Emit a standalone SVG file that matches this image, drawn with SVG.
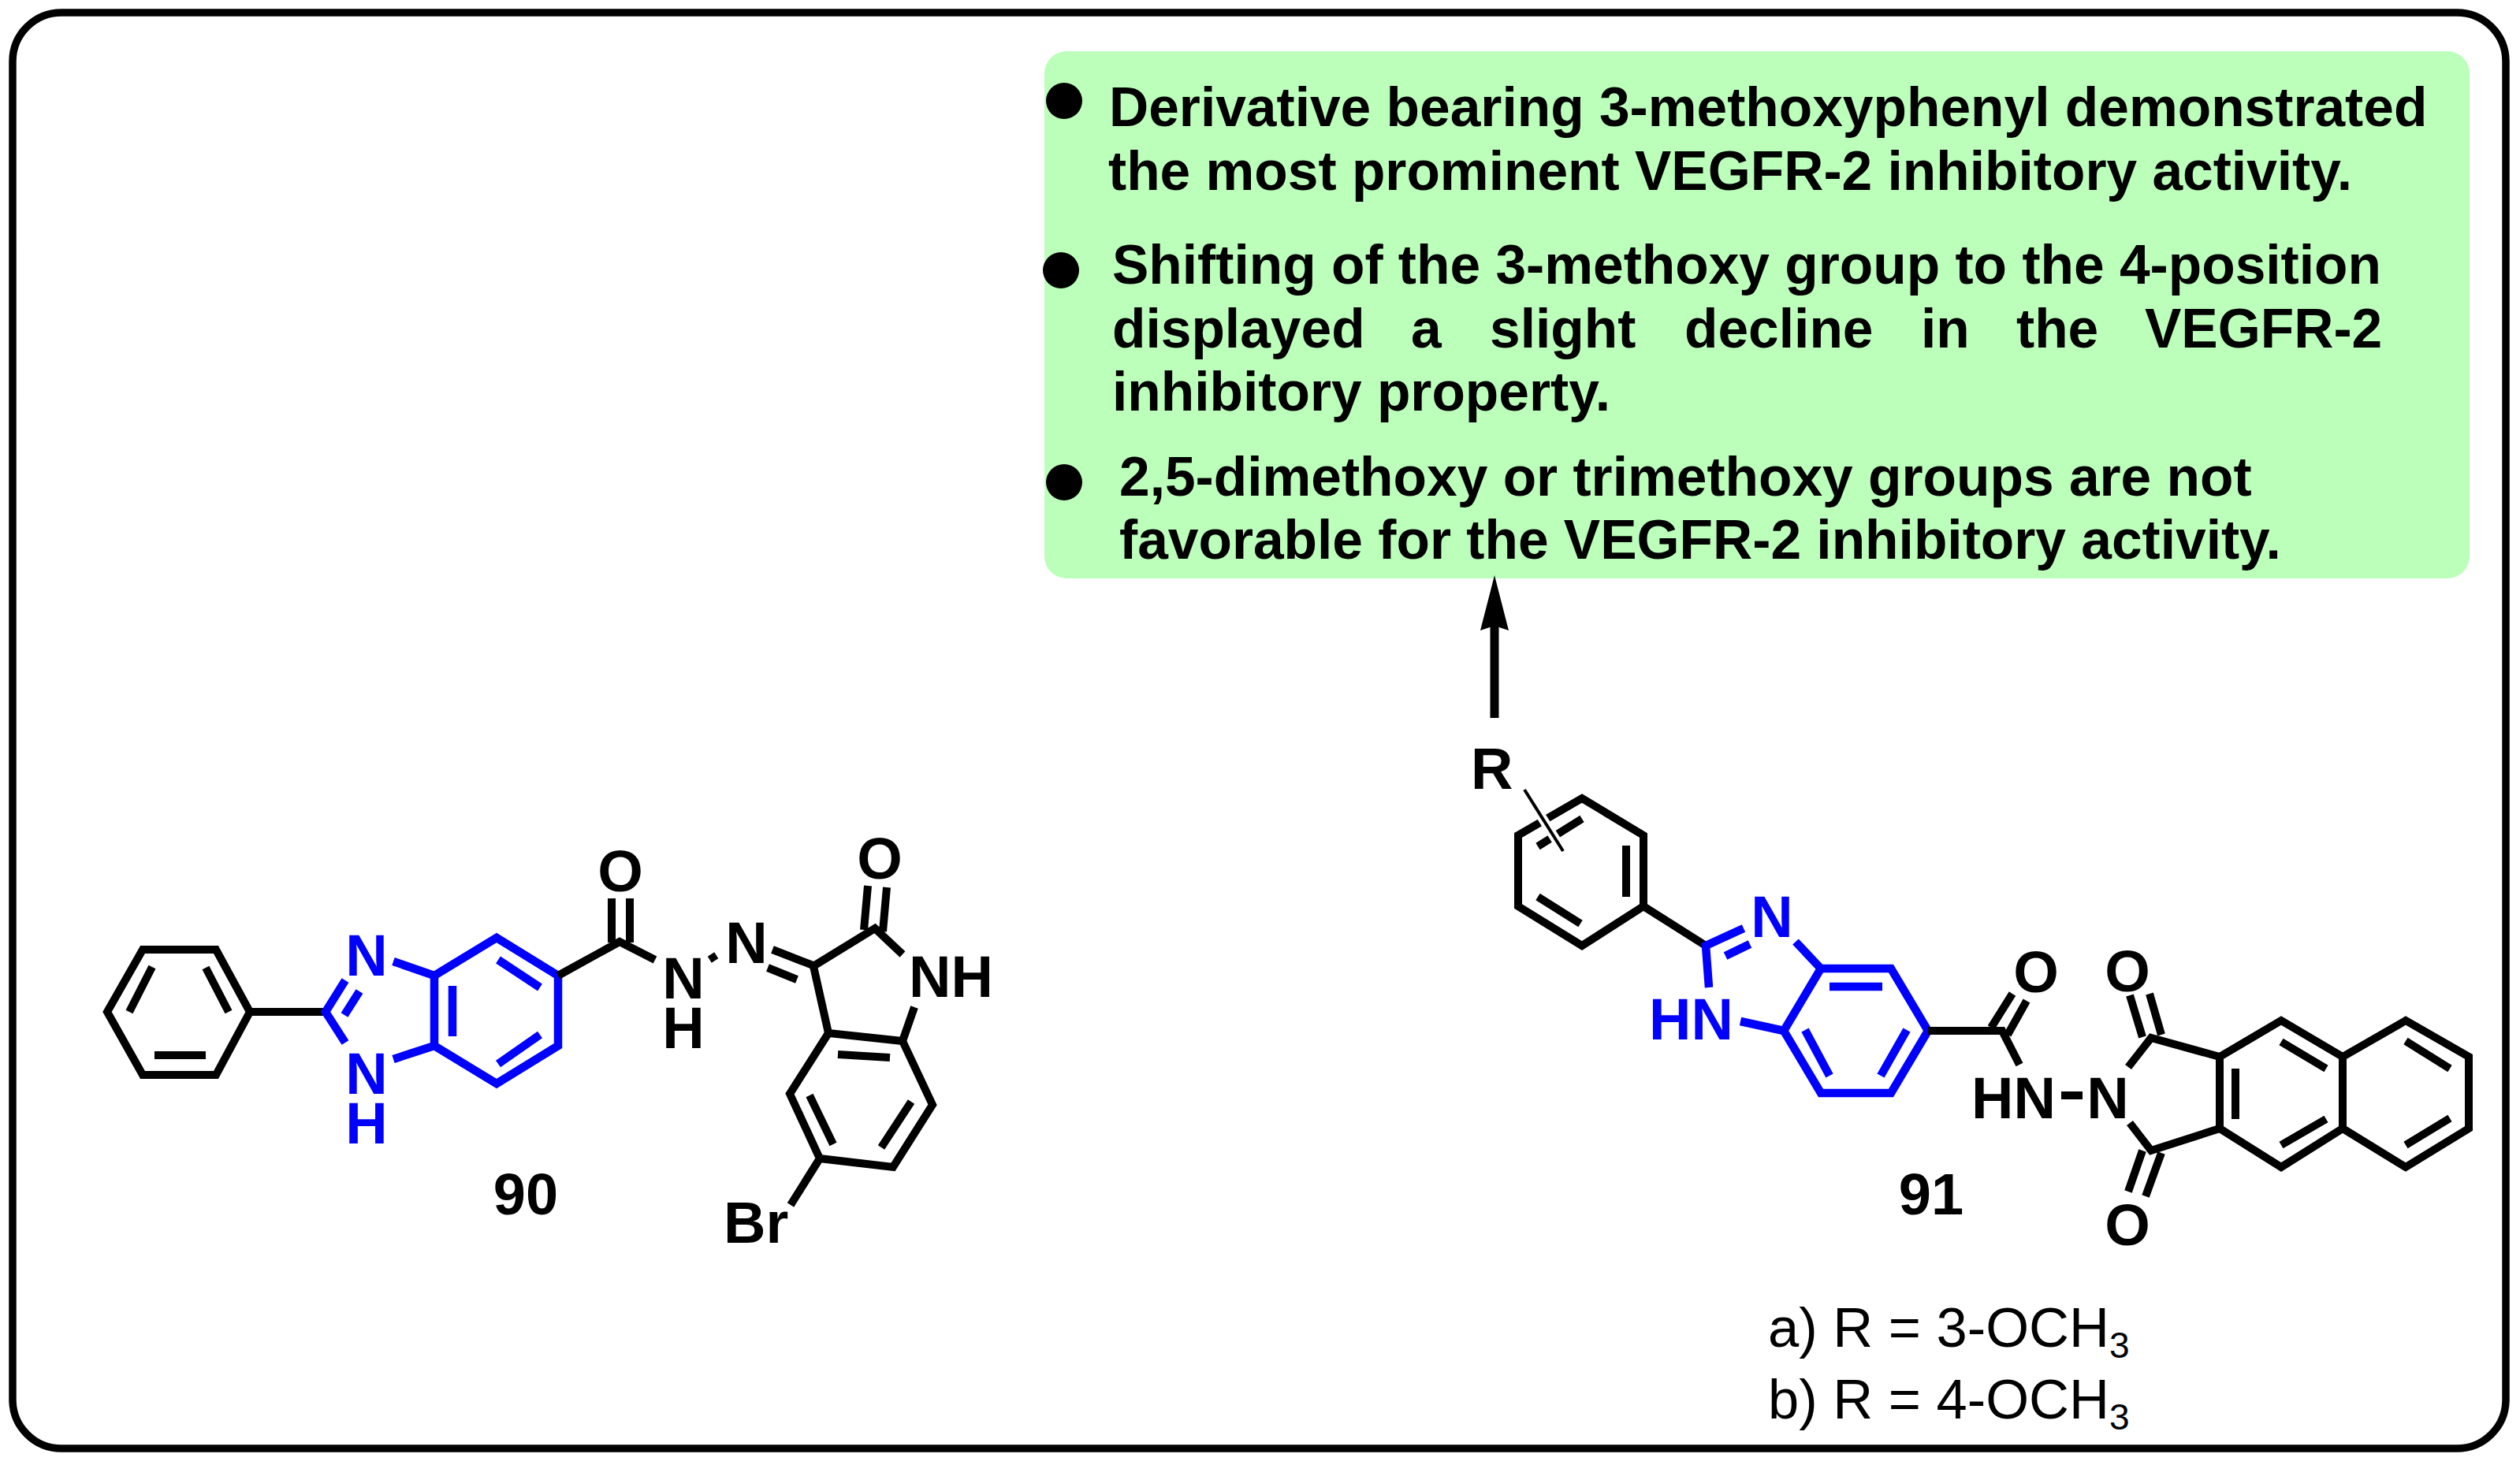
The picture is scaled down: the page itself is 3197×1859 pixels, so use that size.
<svg xmlns="http://www.w3.org/2000/svg" width="3197" height="1859" viewBox="0 0 3197 1859">
<style>
text{font-family:"Liberation Sans",Arial,sans-serif;fill:#000}
.b{font-size:69.5px;font-weight:700}
.a{font-size:74px;font-weight:700}
.r{font-size:70.5px}
.s{font-size:46px}
.bl{fill:#0000ff}
.k{fill:none;stroke:#000;stroke-width:10;stroke-linejoin:miter;stroke-linecap:butt}
.u{fill:none;stroke:#0000ff;stroke-width:10.5;stroke-linejoin:miter;stroke-linecap:butt}
</style>
<rect id="frame" x="16" y="16" width="3163" height="1822" rx="62" fill="#fff" stroke="#000" stroke-width="9.5"/>
<g id="summary">
<rect x="1325" y="65" width="1808" height="669" rx="28" fill="#bbffbb"/>
<ellipse cx="1350" cy="128" rx="23" ry="23"/>
<ellipse cx="1346" cy="343" rx="23" ry="23"/>
<ellipse cx="1350" cy="612" rx="23" ry="23"/>
<text class="b" x="1407" y="160">Derivative bearing 3-methoxyphenyl demonstrated</text>
<text class="b" x="1406" y="241">the most prominent VEGFR-2 inhibitory activity.</text>
<text class="b" x="1411" y="360">Shifting of the 3-methoxy group to the 4-position</text>
<text class="b" y="441"><tspan x="1411">displayed </tspan><tspan x="1790">a </tspan><tspan x="1890">slight </tspan><tspan x="2137">decline </tspan><tspan x="2437">in </tspan><tspan x="2558">the </tspan><tspan x="2721">VEGFR-2</tspan></text>
<text class="b" x="1411" y="521">inhibitory property.</text>
<text class="b" x="1420" y="629">2,5-dimethoxy or trimethoxy groups are not</text>
<text class="b" x="1420" y="709">favorable for the VEGFR-2 inhibitory activity.</text>
</g>
<g id="connectors">
<path d="M1896 911V790" fill="none" stroke="#000" stroke-width="11"/>
<path d="M1896 730L1914 800L1896 794L1878 800Z"/>
</g>
<g id="compound-90">
<path class="k" d="M136 1284L181 1205H274L317 1284L274 1364H181ZM193 1227L164 1284M261 1228L290 1284M196 1339H261"/>
<path class="k" d="M317 1284H413"/>
<path class="u" d="M438 1244L413 1284L438 1323M456 1258L437 1288"/>
<path class="u" d="M499 1220L551 1238M499 1344L551 1327M551 1238L630 1190L708 1238V1327L630 1375L551 1327ZM574 1251V1315M632 1218L685 1253M632 1350L685 1313"/>
<path class="k" d="M708 1238L786 1195L831 1218M776 1196V1140M799 1196V1140M902 1211L907 1219"/>
<path class="k" d="M980 1205L1034 1226M974 1228L1011 1243"/>
<path class="k" d="M1145 1211L1110 1178L1032 1226L1051 1311L1145 1321L1160 1278M1101 1124L1096 1180M1125 1126L1120 1182"/>
<path class="k" d="M1051 1311L1002 1388L1040 1470L1133 1481L1183 1402L1145 1321M1063 1338L1129 1342M1027 1390L1057 1452M1156 1398L1118 1456M1040 1470L1003 1529"/>
<text class="a bl" x="465" y="1238" text-anchor="middle">N</text>
<text class="a bl" x="465" y="1388" text-anchor="middle">N</text>
<text class="a bl" x="465" y="1451" text-anchor="middle">H</text>
<text class="a" x="787" y="1131" text-anchor="middle">O</text>
<text class="a" x="867" y="1267" text-anchor="middle">N</text>
<text class="a" x="867" y="1330" text-anchor="middle">H</text>
<text class="a" x="947" y="1222" text-anchor="middle">N</text>
<text class="a" x="1116" y="1115" text-anchor="middle">O</text>
<text class="a" x="1153" y="1265">NH</text>
<text class="a" x="918" y="1577">Br</text>
<text class="a" x="667" y="1541" text-anchor="middle">90</text>
</g>
<g id="compound-91">
<path class="k" d="M2007 1013L2085 1060V1150L2007 1200L1926 1150V1060ZM2007 1039L1951 1074M2063 1073V1138M1951 1138L2005 1172"/>
<path d="M1934 1002L1983 1080" fill="none" stroke="#fff" stroke-width="12"/>
<path d="M1934 1002L1983 1080" fill="none" stroke="#000" stroke-width="4"/>
<text class="a" x="1866" y="1001">R</text>
<path class="k" d="M2085 1150L2164 1200"/>
<path class="u" d="M2212 1178L2164 1200L2168 1253M2189 1213L2220 1198M2278 1195L2310 1229M2208 1296L2263 1308"/>
<path class="u" d="M2310 1229H2399L2446 1308L2399 1387H2310L2263 1308ZM2321 1252H2388M2290 1307L2321 1365M2419 1307L2386 1365"/>
<path class="k" d="M2446 1308H2540L2562 1351M2526 1304L2553 1261M2547 1313L2571 1270"/>
<path class="k" d="M2700 1354L2729 1317L2816 1341M2702 1263L2718 1316M2727 1261L2742 1313M2702 1425L2729 1460L2816 1432M2718 1460L2700 1512M2742 1463L2722 1518"/>
<path class="k" d="M2816 1341L2894 1295L2972 1341L3052 1295L3132 1341V1432L3052 1481L2972 1432L2894 1481L2816 1432ZM2972 1341V1432M2836 1356V1420M2894 1322L2951 1356M2894 1453L2951 1420M3052 1321L3108 1356M3052 1453L3108 1419"/>
<text class="a bl" x="2248" y="1189" text-anchor="middle">N</text>
<text class="a bl" x="2092" y="1319">HN</text>
<text class="a" x="2583" y="1259" text-anchor="middle">O</text>
<text class="a" x="2501" y="1419">HN</text>
<path d="M2615 1390H2642" fill="none" stroke="#000" stroke-width="10"/>
<text class="a" x="2674" y="1419" text-anchor="middle">N</text>
<text class="a" x="2699" y="1258" text-anchor="middle">O</text>
<text class="a" x="2699" y="1580" text-anchor="middle">O</text>
<text class="a" x="2450" y="1541" text-anchor="middle">91</text>
<text class="r" x="2243" y="1709">a) R = 3-OCH<tspan class="s" dy="14">3</tspan></text>
<text class="r" x="2243" y="1800">b) R = 4-OCH<tspan class="s" dy="14">3</tspan></text>
</g>
</svg>
